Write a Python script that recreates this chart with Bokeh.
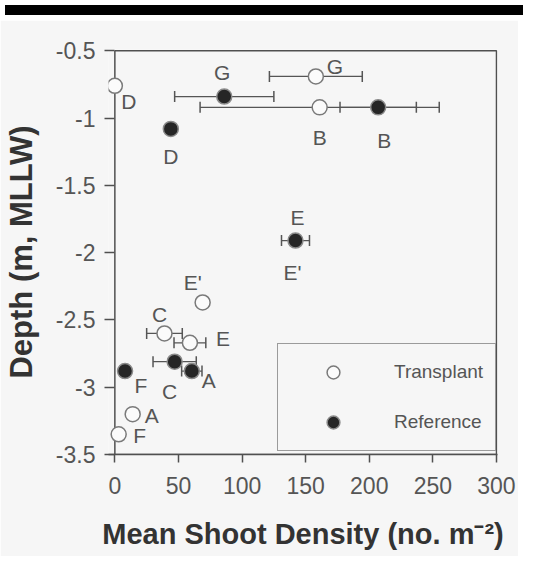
from bokeh.plotting import figure
from bokeh.models import (ColumnDataSource, Whisker, TeeHead, Legend, LegendItem,
                          FixedTicker, CustomJSTickFormatter, Div, Range1d, BoxAnnotation)
from bokeh.layouts import column
from bokeh.embed import file_html
from bokeh.resources import INLINE
from bokeh.core.properties import value

# ---------------- data ----------------
transplant_sites = ["A", "B", "C", "D", "E", "E'", "F", "G"]
transplant_density = [14, 161, 39, 0, 59, 69, 3, 158]
transplant_depth = [-3.20, -0.92, -2.60, -0.76, -2.67, -2.37, -3.35, -0.69]
transplant_err = [0, 94, 14, 0, 12.5, 0, 0, 36.5]

reference_sites = ["A", "B", "C", "D", "E", "F", "G"]
reference_density = [60.5, 207, 47, 44, 142, 8, 86]
reference_depth = [-2.88, -0.92, -2.81, -1.08, -1.91, -2.88, -0.84]
reference_err = [8, 30, 17, 0, 11, 0, 39]

# extra label attached to reference point E
reference_label_text = ["A", "B", "C", "D", "E", "E'", "F", "G"]
reference_label_point = [0, 1, 2, 3, 4, 4, 5, 6]

x_ticks = [0, 50, 100, 150, 200, 250, 300]
y_ticks = [-3.5, -3, -2.5, -2, -1.5, -1, -0.5]

legend_labels = ["Transplant", "Reference"]

# label placement (pixels)
transplant_label_dx = [19, 0, -5, 14, 33, -10, 21, 19]
transplant_label_dy = [1, 30, -19, 16, -4, -20, 1, -10]
reference_label_dx = [17, 6, -5, 0, 2, -3, 16, -2]
reference_label_dy = [9, 33, 30, 28, -23, 32, 14, -24]

FONT = "Liberation Sans"
AX = "#505050"
BG = "#f6f6f6"

x_lo, x_hi = x_ticks[0], x_ticks[-1]
y_lo, y_hi = y_ticks[0], y_ticks[-1]

# small gaps around the box so markers on the y axis and the box lines are not cut off;
# the visible y-axis line, top and right sides are drawn by the box below
p = figure(width=518, height=536, output_backend="svg", toolbar_location=None,
           x_range=Range1d(x_lo - 5, x_hi + 0.8), y_range=Range1d(y_lo, y_hi + 0.01),
           min_border_left=108, min_border_right=21, min_border_top=29,
           min_border_bottom=102,
           background_fill_color=BG, border_fill_color=BG,
           outline_line_color=None)
p.grid.visible = False

for ax in (p.xaxis[0], p.yaxis[0]):
    ax.axis_line_color = AX
    ax.axis_line_width = 1.5
    ax.major_tick_line_color = AX
    ax.major_tick_line_width = 1.5
    ax.minor_tick_line_color = None
    ax.major_label_text_font = FONT
    ax.major_label_text_font_size = "23px"
    ax.major_label_text_color = "#555555"
    ax.axis_label_text_font = FONT
    ax.axis_label_text_font_style = "bold"
    ax.axis_label_text_color = "#333333"

p.yaxis.axis_line_color = None
p.xaxis.major_tick_in = 0
p.xaxis.major_tick_out = 8
p.yaxis.major_tick_in = 6
p.yaxis.major_tick_out = 4
p.xaxis.axis_label_text_font_size = "29px"
p.yaxis.axis_label_text_font_size = "31px"
p.xaxis.ticker = FixedTicker(ticks=x_ticks)
p.yaxis.ticker = FixedTicker(ticks=y_ticks)
p.yaxis.formatter = CustomJSTickFormatter(code="return tick.toString();")
p.xaxis.major_label_standoff = 14
p.yaxis.major_label_standoff = 9
p.xaxis.axis_label = "Mean Shoot Density (no. m\u207b\u00b2)"
p.yaxis.axis_label = "Depth (m, MLLW)"
p.xaxis.axis_label_standoff = 21
p.yaxis.axis_label_standoff = 14

# plot box: y axis line at x=0, top and right sides
p.add_layout(BoxAnnotation(left=x_lo, right=x_hi, bottom=y_lo, top=y_hi,
                           fill_color=None, fill_alpha=0,
                           line_color=AX, line_alpha=1.0, line_width=1.5,
                           level="underlay"))

# error bars
def whisker_source(xs, ys, es):
    d = dict(y=[], lo=[], hi=[])
    for x, y, e in zip(xs, ys, es):
        if e > 0:
            d["y"].append(y)
            d["lo"].append(x - e)
            d["hi"].append(x + e)
    return ColumnDataSource(d)

for xs, ys, es in ((transplant_density, transplant_depth, transplant_err),
                   (reference_density, reference_depth, reference_err)):
    w = Whisker(source=whisker_source(xs, ys, es), base="y", lower="lo", upper="hi",
                dimension="width", line_color="#555555", line_width=1.3,
                lower_head=TeeHead(size=11, line_color="#555555", line_width=1.5),
                upper_head=TeeHead(size=11, line_color="#555555", line_width=1.5))
    p.add_layout(w)

# markers
t_src = ColumnDataSource(dict(x=transplant_density, y=transplant_depth, site=transplant_sites,
                              dx=transplant_label_dx, dy=transplant_label_dy))
r_src = ColumnDataSource(dict(x=reference_density, y=reference_depth, site=reference_sites))

rt = p.scatter("x", "y", source=t_src, marker="circle", size=15,
               fill_color="#fbfbfb", line_color="#7a7a7a", line_width=1.5)
rr = p.scatter("x", "y", source=r_src, marker="circle", size=15,
               fill_color="#262626", line_color="#8a8a8a", line_width=1.5)

# point labels
p.text("x", "y", text="site", source=t_src, x_offset="dx", y_offset="dy",
       text_font=value(FONT), text_font_size="21px", text_color="#555555",
       text_align="center", text_baseline="middle")

rl_src = ColumnDataSource(dict(
    x=[reference_density[i] for i in reference_label_point],
    y=[reference_depth[i] for i in reference_label_point],
    t=reference_label_text, dx=reference_label_dx, dy=reference_label_dy))
p.text("x", "y", text="t", source=rl_src, x_offset="dx", y_offset="dy",
       text_font=value(FONT), text_font_size="21px", text_color="#555555",
       text_align="center", text_baseline="middle")

legend = Legend(items=[LegendItem(label=legend_labels[0], renderers=[rt]),
                       LegendItem(label=legend_labels[1], renderers=[rr])],
                location=(169, 3), orientation="vertical",
                padding=12, spacing=18, glyph_width=86, glyph_height=32,
                label_height=32, label_standoff=18,
                label_text_font=FONT, label_text_font_size="19px",
                label_text_color="#555555",
                border_line_color="#404040", border_line_width=1.5,
                background_fill_color=BG, background_fill_alpha=1.0)
p.add_layout(legend)

bar = Div(width=518, height=10, styles={"background-color": "black"})
layout = column(bar, p, spacing=0)

open("out.html", "w").write(file_html(layout, INLINE))
